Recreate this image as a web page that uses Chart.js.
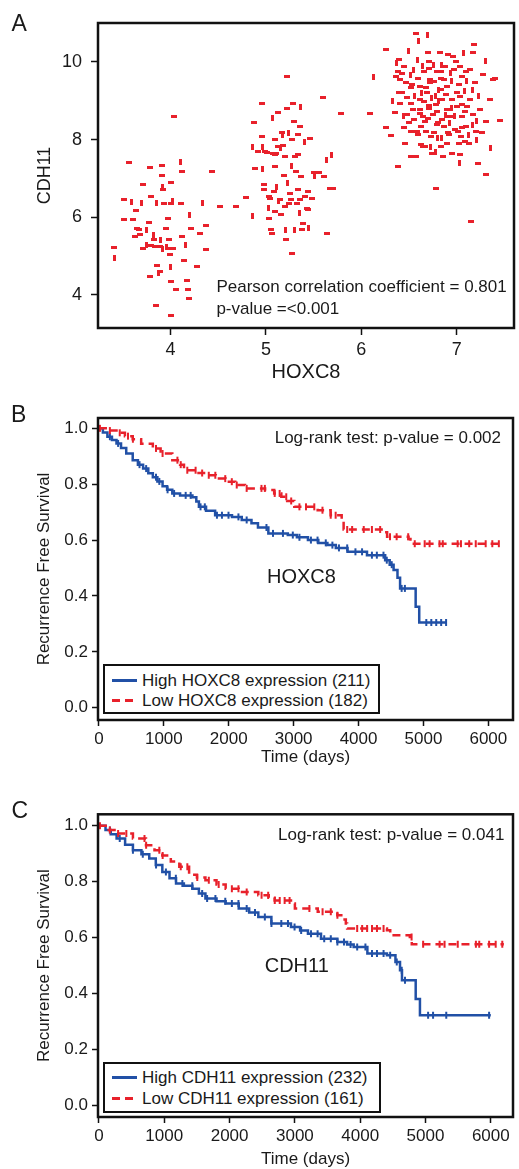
<!DOCTYPE html>
<html>
<head>
<meta charset="utf-8">
<script src="https://cdn.jsdelivr.net/npm/chart.js@4.4.1/dist/chart.umd.min.js"></script>
<style>
  html, body { margin: 0; padding: 0; background: #fff; }
  body { width: 519px; height: 1169px; position: relative; overflow: hidden;
         font-family: "Liberation Sans", Arial, sans-serif; color: #1a1a1a; }
  canvas { position: absolute; left: 0; }
  .txt { position: absolute; white-space: nowrap; line-height: 1; font-size: 17px; }
  .panel { font-size: 23px; }
  .big { font-size: 20px; }
  .legend { position: absolute; border: 2px solid #111; background: #fff; box-sizing: border-box; }
  .swatch { position: absolute; height: 3px; width: 25px; }
</style>
</head>
<body>
<canvas id="scatterChart" width="519" height="388" style="top:0"></canvas>
<canvas id="hoxc8Chart" width="519" height="392" style="top:380px"></canvas>
<canvas id="cdh11Chart" width="519" height="394" style="top:780px"></canvas>

<div class="txt panel" style="left:11.5px;top:12px">A</div>
<div class="txt panel" style="left:11px;top:403px">B</div>
<div class="txt panel" style="left:11.5px;top:799px">C</div>

<div class="txt" style="left:216.4px;top:278.3px">Pearson correlation coefficient = 0.801</div>
<div class="txt" style="left:216.4px;top:299.5px">p-value =&lt;0.001</div>
<div class="txt" style="left:274.7px;top:428.5px">Log-rank test: p-value = 0.002</div>
<div class="txt" style="left:278px;top:826px">Log-rank test: p-value = 0.041</div>
<div class="txt big" style="left:267px;top:566.4px">HOXC8</div>
<div class="txt big" style="left:264.7px;top:955px">CDH11</div>

<div id="legendB"></div>
<div id="legendC"></div>

<script>
const RED = '#e8212b';
const BLUE = '#2150a6';
const INK = '#1a1a1a';
const FONT = '"Liberation Sans", Arial, sans-serif';

// A: expression values, one entry per sample (HOXC8 on x, CDH11 on y)
const hoxc8Expr = [
    3.41, 3.41, 3.56, 3.51, 3.51, 3.59, 3.61, 3.63, 3.64, 3.70, 3.71, 3.67, 3.71, 3.75, 3.77, 3.78, 3.79, 3.82, 3.84, 3.85,
    3.86, 3.87, 3.89, 3.91, 3.91, 3.92, 3.92, 3.93, 3.95, 3.96, 3.97, 3.98, 3.99, 4.00, 4.01, 4.01, 4.01, 4.02, 4.03, 4.04,
    4.06, 4.10, 4.12, 4.12, 4.14, 4.16, 4.17, 4.18, 4.19, 4.20, 4.21, 4.28, 4.31, 4.33, 4.37, 4.37, 4.44, 3.75, 3.80, 3.83,
    3.89, 3.92, 4.00, 3.68, 3.65, 3.85, 4.01, 4.11, 3.80, 3.89,
    4.52, 4.69, 4.79, 4.86, 4.88, 4.96, 4.96, 4.96, 4.99, 5.01, 4.89, 4.96, 4.98, 4.98, 5.03, 5.03, 5.03, 5.05, 5.06, 5.07,
    5.09, 5.10, 5.10, 5.11, 5.13, 5.15, 5.16, 5.17, 5.18, 5.19, 5.20, 5.21, 5.21, 5.22, 5.22, 5.23, 5.24, 5.25, 5.27, 5.27,
    5.28, 5.29, 5.30, 5.30, 5.32, 5.33, 5.34, 5.36, 5.36, 5.37, 5.39, 5.40, 5.41, 5.43, 5.44, 5.45, 5.46, 5.48, 5.50, 5.51,
    5.56, 5.60, 5.61, 5.63, 5.64, 5.67, 5.70, 5.69, 5.79, 5.07, 5.13, 5.15, 5.04, 5.08, 5.09, 5.13, 5.20, 5.26, 5.34, 5.35,
    5.36, 5.38, 5.44, 4.86, 4.92, 5.11, 5.17, 5.24, 5.27, 5.34,
    6.09, 6.13, 6.26, 6.26, 6.31, 6.33, 6.35, 6.38, 6.38, 6.37, 6.39, 6.41, 6.43, 6.44, 6.45, 6.46, 6.48, 6.49, 6.52, 6.52,
    6.53, 6.55, 6.57, 6.57, 6.59, 6.60, 6.61, 6.62, 6.63, 6.63, 6.65, 6.66, 6.68, 6.69, 6.70, 6.71, 6.72, 6.72, 6.74, 6.75,
    6.76, 6.78, 6.78, 6.79, 6.80, 6.81, 6.82, 6.83, 6.84, 6.84, 6.85, 6.86, 6.87, 6.88, 6.90, 6.91, 6.92, 6.93, 6.95, 6.96,
    6.97, 6.98, 7.00, 7.01, 7.02, 7.03, 7.03, 7.05, 7.06, 7.07, 7.09, 7.10, 7.10, 7.12, 7.13, 7.14, 7.15, 7.16, 7.17, 7.18,
    7.20, 7.21, 7.22, 7.24, 7.28, 7.30, 7.31, 7.31, 7.35, 7.35, 7.38, 7.40, 7.45, 6.78, 6.90, 6.62, 6.52, 6.69, 6.48, 6.43,
    6.39, 6.72, 6.83, 6.88, 7.03, 7.10, 7.00, 6.93, 6.79, 6.74, 6.59, 6.55, 6.67, 6.76, 6.69, 6.91, 7.05, 6.84, 6.79, 6.65,
    6.72, 6.59, 6.47, 7.03, 7.14, 7.21, 6.95, 6.83, 6.67, 6.56, 6.36, 6.40, 6.45, 6.51, 6.54, 6.58, 6.61, 6.64, 6.70, 6.73,
    6.76, 6.81, 6.85, 6.89, 6.90, 6.94, 6.98, 7.02, 7.06, 7.08, 7.11, 7.17, 7.19, 7.23, 7.26, 6.52, 6.68, 6.80, 6.87, 6.99,
    7.09, 7.16, 6.66, 6.71, 6.78, 6.95, 7.04, 6.50, 6.63, 6.92
];
const cdh11Expr = [
    5.23, 4.95, 7.42, 6.47, 5.93, 6.39, 5.93, 5.50, 6.17, 6.36, 6.84, 5.68, 5.20, 5.68, 5.86, 4.47, 7.28, 5.55, 5.25, 3.72,
    4.76, 4.56, 4.60, 7.32, 7.08, 6.79, 6.71, 6.35, 5.72, 5.23, 5.98, 5.42, 5.05, 4.73, 3.46, 4.34, 6.90, 6.41, 5.20, 8.60,
    4.13, 7.42, 7.18, 5.50, 4.90, 5.29, 4.36, 4.13, 3.91, 6.06, 5.72, 4.73, 5.57, 6.36, 5.80, 5.18, 7.18, 5.29, 5.27, 5.42,
    5.25, 5.18, 5.20, 5.55, 5.72, 6.36, 6.36, 6.36, 6.54, 5.42,
    6.29, 6.29, 6.52, 6.04, 8.44, 8.92, 8.08, 7.82, 7.69, 7.67, 7.25, 7.25, 6.84, 6.71, 6.53, 6.23, 5.98, 5.68, 5.59, 8.55,
    7.61, 7.99, 7.31, 6.79, 8.70, 6.45, 6.06, 8.12, 7.84, 7.07, 7.57, 5.68, 5.44, 8.81, 9.63, 6.88, 6.36, 6.62, 5.08, 7.31,
    8.94, 8.47, 7.57, 5.68, 7.18, 6.36, 7.61, 8.85, 8.34, 7.05, 5.85, 7.93, 6.53, 6.23, 6.19, 5.72, 8.04, 6.49, 7.14, 7.07,
    7.14, 9.07, 7.05, 7.48, 5.59, 6.75, 6.75, 7.61, 8.68, 7.65, 7.82, 7.78, 6.49, 6.66, 6.15, 6.41, 6.28, 6.45, 6.71, 6.11,
    6.45, 5.68, 6.66, 7.82, 7.69, 7.65, 8.17, 8.17, 7.99, 8.12,
    8.68, 9.60, 8.30, 10.33, 8.11, 8.98, 8.70, 7.31, 9.76, 9.97, 10.06, 9.54, 9.20, 8.60, 9.89, 7.91, 9.07, 10.27, 9.34, 7.57,
    9.41, 9.80, 7.57, 10.74, 9.58, 10.53, 8.77, 9.03, 8.34, 9.20, 7.82, 9.76, 9.33, 10.70, 10.23, 10.01, 9.54, 8.85, 7.65, 8.64,
    8.17, 9.11, 6.75, 9.76, 8.43, 9.28, 10.23, 7.82, 9.58, 9.93, 9.03, 7.57, 8.34, 8.64, 9.37, 10.19, 8.12, 9.71, 9.03, 10.14,
    9.80, 8.60, 9.20, 8.21, 7.91, 7.39, 7.61, 9.63, 8.90, 10.23, 8.73, 8.34, 9.76, 8.12, 7.91, 9.03, 5.89, 9.28, 10.23, 10.44,
    8.21, 8.47, 7.39, 8.77, 9.67, 10.01, 8.47, 7.09, 9.03, 7.78, 9.54, 9.58, 8.49, 7.69, 8.77, 8.68, 8.94, 8.85, 8.64, 9.71,
    9.20, 7.82, 9.76, 9.89, 9.11, 9.50, 8.85, 8.60, 8.38, 9.07, 8.12, 8.51, 8.47, 9.93, 9.20, 8.17, 8.30, 8.04, 8.72, 8.60,
    9.46, 10.06, 9.46, 9.89, 9.80, 7.99, 7.65, 9.28, 7.82, 9.11, 9.63, 8.94, 8.30, 9.67, 8.77, 8.21, 9.37, 9.89, 8.55, 8.08,
    9.50, 8.98, 8.51, 9.15, 7.91, 9.50, 8.25, 9.41, 8.60, 9.24, 8.85, 8.64, 9.46, 9.11, 8.17, 8.21, 8.21, 8.04, 9.54, 10.01,
    7.95, 8.38, 8.98, 9.84, 8.90, 8.81, 8.08, 8.43, 7.87, 8.43
];

// B: recurrence free survival by HOXC8 group (days, survival after each step)
const hoxHighTime = [0, 60, 130, 200, 270, 340, 420, 520, 600, 680, 760, 830, 900, 980, 1050, 1130, 1250, 1440, 1500, 1540,
    1650, 1790, 2050, 2200, 2350, 2450, 2610, 2910, 3050, 3220, 3380, 3520, 3650, 3830, 4130, 4410, 4480, 4540, 4600, 4640,
    4880, 4935, 5350];
const hoxHighSurv = [1.0, 0.985, 0.970, 0.958, 0.946, 0.930, 0.910, 0.886, 0.870, 0.856, 0.839, 0.825, 0.810, 0.793, 0.780, 0.767, 0.760, 0.753, 0.738, 0.719,
    0.705, 0.689, 0.683, 0.672, 0.660, 0.645, 0.624, 0.618, 0.610, 0.600, 0.590, 0.582, 0.572, 0.558, 0.546, 0.528, 0.512, 0.493, 0.465, 0.427,
    0.361, 0.305, 0.305];
const hoxHighCensor = [168, 295, 625, 727, 879, 930, 1057, 1158, 1336, 1413, 1565, 1631, 1818, 1895, 1996, 2149, 2276, 2581, 2682, 2835,
    2987, 3089, 3266, 3368, 3495, 3597, 3698, 3825, 3952, 4054, 4206, 4282, 4384, 4435, 4511, 4664, 4714, 5044, 5121, 5197, 5273, 5349];

const hoxLowTime = [0, 150, 270, 400, 520, 650, 830, 950, 1130, 1250, 1310, 1500, 1640, 1800, 1950, 2100, 2250, 2560, 2700, 2810,
    2900, 3010, 3370, 3570, 3740, 3770, 4380, 4440, 4770, 4800, 6215];
const hoxLowSurv = [1.0, 0.992, 0.984, 0.972, 0.961, 0.945, 0.928, 0.910, 0.886, 0.870, 0.850, 0.840, 0.832, 0.820, 0.809, 0.797, 0.785, 0.779, 0.767, 0.755,
    0.740, 0.719, 0.707, 0.689, 0.668, 0.638, 0.628, 0.612, 0.604, 0.587, 0.587];
const hoxLowCensor = [15, 168, 320, 447, 523, 879, 980, 1209, 1260, 1361, 1489, 1590, 1692, 1793, 1946, 2047, 2123, 2276, 2504, 2556,
    2708, 2784, 2886, 2962, 3089, 3190, 3318, 3444, 3571, 3647, 3825, 3901, 4080, 4206, 4333, 4485, 4587, 4765, 4866, 5019,
    5095, 5247, 5298, 5527, 5578, 5705, 5806, 5959, 6061, 6162];

// C: recurrence free survival by CDH11 group
const cdhHighTime = [0, 100, 180, 270, 400, 520, 650, 770, 870, 970, 1080, 1180, 1300, 1430, 1530, 1630, 1800, 1940, 2140, 2300,
    2440, 2640, 2940, 3080, 3200, 3400, 3650, 3800, 3900, 4110, 4410, 4540, 4610, 4640, 4850, 4915, 6000];
const cdhHighSurv = [1.0, 0.985, 0.970, 0.954, 0.932, 0.912, 0.898, 0.883, 0.860, 0.835, 0.812, 0.793, 0.785, 0.775, 0.758, 0.740, 0.730, 0.722, 0.704, 0.690,
    0.674, 0.650, 0.638, 0.625, 0.614, 0.596, 0.584, 0.575, 0.566, 0.543, 0.537, 0.513, 0.483, 0.447, 0.380, 0.322, 0.322];
const cdhHighCensor = [167, 318, 520, 671, 874, 1025, 1177, 1277, 1429, 1580, 1656, 1783, 1934, 2035, 2136, 2262, 2389, 2540, 2641, 2792,
    2894, 2995, 3096, 3247, 3348, 3449, 3550, 3651, 3752, 3853, 3954, 4080, 4181, 4257, 4358, 4459, 4560, 4636, 4686, 5040,
    5116, 5318, 5974];

const cdhLowTime = [0, 150, 270, 520, 720, 850, 970, 1100, 1230, 1380, 1500, 1630, 1800, 1940, 2140, 2440, 2600, 2690, 2940, 3000,
    3350, 3650, 3740, 3780, 3800, 4410, 4460, 4760, 4790, 6200];
const cdhLowSurv = [1.0, 0.985, 0.972, 0.954, 0.930, 0.912, 0.894, 0.872, 0.853, 0.825, 0.815, 0.805, 0.790, 0.775, 0.763, 0.751, 0.742, 0.733, 0.722, 0.704,
    0.692, 0.680, 0.665, 0.650, 0.632, 0.626, 0.608, 0.602, 0.576, 0.576];
const cdhLowCensor = [15, 167, 293, 419, 697, 722, 924, 975, 1252, 1353, 1505, 1682, 1833, 2035, 2136, 2262, 2490, 2591, 2692, 2768,
    2843, 2919, 3222, 3424, 3550, 3651, 3954, 4030, 4106, 4181, 4257, 4358, 4787, 4964, 5216, 5292, 5494, 5772, 5823, 5974,
    6075, 6176];

// tick labels
const exprXTicks = [4, 5, 6, 7];
const exprYTicks = [4, 6, 8, 10];
const timeTicks = [0, 1000, 2000, 3000, 4000, 5000, 6000];
const survTicks = [0, 0.2, 0.4, 0.6, 0.8, 1.0];

const legendB = ['High HOXC8 expression (211)', 'Low HOXC8 expression (182)'];
const legendC = ['High CDH11 expression (232)', 'Low CDH11 expression (161)'];

const framePlugin = {
    id: 'frame',
    afterDraw(chart) {
        const { ctx, chartArea: a } = chart;
        ctx.save();
        ctx.strokeStyle = '#111';
        ctx.lineWidth = 2.5;
        ctx.strokeRect(a.left, a.top, a.right - a.left, a.bottom - a.top);
        ctx.restore();
    }
};

function axis(opts) {
    return {
        type: 'linear',
        min: opts.min,
        max: opts.max,
        afterBuildTicks: s => { s.ticks = opts.ticks.map(value => ({ value })); },
        ticks: {
            color: INK,
            padding: opts.pad,
            maxRotation: 0,
            autoSkip: false,
            font: { family: FONT, size: opts.tickSize },
            callback: opts.fmt || (v => v)
        },
        grid: { drawOnChartArea: false, drawTicks: true, tickLength: opts.tickLen, tickWidth: 1.5, tickColor: '#111' },
        border: { display: false },
        title: {
            display: true,
            text: opts.title,
            color: INK,
            font: { family: FONT, size: opts.titleSize },
            padding: { top: 4, bottom: 4 }
        },
        afterFit: opts.fit
    };
}

function survivalAt(times, surv, t) {
    let s = surv[0];
    for (let i = 0; i < times.length; i++) {
        if (times[i] <= t) s = surv[i];
    }
    return s;
}

function createScatterChart() {
    const dash = document.createElement('canvas');
    dash.width = 6;
    dash.height = 3;
    const d = dash.getContext('2d');
    d.fillStyle = RED;
    d.fillRect(0, 0, 6, 3);

    const ctx = document.getElementById('scatterChart').getContext('2d');
    new Chart(ctx, {
        type: 'scatter',
        data: {
            datasets: [{
                data: hoxc8Expr.map((x, i) => ({ x, y: cdh11Expr[i] })),
                pointStyle: dash,
                pointRotation: c => (c.dataIndex % 4 === 1 ? 90 : 0)
            }]
        },
        options: {
            responsive: false,
            animation: false,
            events: [],
            layout: { padding: { top: 23, right: 1.5, left: 30, bottom: 0 } },
            plugins: { legend: { display: false }, tooltip: { enabled: false } },
            scales: {
                x: axis({ min: 3.24, max: 7.6, ticks: exprXTicks, pad: 4, tickSize: 18, tickLen: 7, title: 'HOXC8', titleSize: 20,
                    fit: s => { s.height = 60; } }),
                y: axis({ min: 3.15, max: 11.0, ticks: exprYTicks, pad: 9, tickSize: 18, tickLen: 7, title: 'CDH11', titleSize: 18,
                    fit: s => { s.width = 68; } })
            }
        },
        plugins: [framePlugin]
    });
}

function createSurvivalChart(id, cfg) {
    const curve = (times, surv, color, dashed) => ({
        data: times.map((t, i) => ({ x: t, y: surv[i] })),
        showLine: true,
        stepped: 'before',
        borderColor: color,
        borderWidth: 2.5,
        borderDash: dashed ? [8, 5] : [],
        pointRadius: 0,
        fill: false
    });
    const marks = (censor, times, surv, color) => ({
        data: censor.map(t => ({ x: t, y: survivalAt(times, surv, t) })),
        showLine: false,
        pointStyle: 'line',
        pointRotation: 90,
        pointRadius: 3.5,
        pointBorderWidth: 2,
        pointBorderColor: color
    });

    const ctx = document.getElementById(id).getContext('2d');
    new Chart(ctx, {
        type: 'scatter',
        data: {
            datasets: [
                curve(cfg.low.time, cfg.low.surv, RED, true),
                marks(cfg.low.censor, cfg.low.time, cfg.low.surv, RED),
                curve(cfg.high.time, cfg.high.surv, BLUE, false),
                marks(cfg.high.censor, cfg.high.time, cfg.high.surv, BLUE)
            ]
        },
        options: {
            responsive: false,
            animation: false,
            events: [],
            layout: { padding: { top: cfg.padTop, right: 1.5, left: 30, bottom: 0 } },
            plugins: { legend: { display: false }, tooltip: { enabled: false } },
            scales: {
                x: axis({ min: -15, max: cfg.xMax, ticks: timeTicks, pad: 3, tickSize: 17, tickLen: 6, title: 'Time (days)', titleSize: 17,
                    fit: s => { s.height = cfg.xHeight; } }),
                y: axis({ min: cfg.yMin, max: cfg.yMax, ticks: survTicks, pad: 4, tickSize: 17, tickLen: 6, title: 'Recurrence Free Survival', titleSize: 17,
                    fmt: v => v.toFixed(1), fit: s => { s.width = 68; } })
            }
        },
        plugins: [framePlugin]
    });
}

function buildLegend(id, labels, box) {
    const el = document.getElementById(id);
    const frame = document.createElement('div');
    frame.className = 'legend';
    Object.assign(frame.style, { left: box.left + 'px', top: box.top + 'px', width: box.width + 'px', height: box.height + 'px' });
    el.appendChild(frame);
    labels.forEach((label, i) => {
        const sw = document.createElement('div');
        sw.className = 'swatch';
        sw.style.left = '112px';
        sw.style.top = Math.round(box.rows[i] - 1.5) + 'px';
        sw.style.background = i === 0 ? BLUE
            : `repeating-linear-gradient(90deg, ${RED} 0 8px, transparent 8px 13px)`;
        el.appendChild(sw);
        const t = document.createElement('div');
        t.className = 'txt';
        t.style.left = '142px';
        t.style.top = (box.rows[i] - 8.3) + 'px';
        t.style.color = INK;
        t.textContent = label;
        el.appendChild(t);
    });
}

createScatterChart();
createSurvivalChart('hoxc8Chart', {
    padTop: 38, xHeight: 52, xMax: 6380, yMin: -0.044, yMax: 1.037,
    high: { time: hoxHighTime, surv: hoxHighSurv, censor: hoxHighCensor },
    low: { time: hoxLowTime, surv: hoxLowSurv, censor: hoxLowCensor }
});
createSurvivalChart('cdh11Chart', {
    padTop: 34.3, xHeight: 57, xMax: 6340, yMin: -0.042, yMax: 1.041,
    high: { time: cdhHighTime, surv: cdhHighSurv, censor: cdhHighCensor },
    low: { time: cdhLowTime, surv: cdhLowSurv, censor: cdhLowCensor }
});
buildLegend('legendB', legendB, { left: 103, top: 664, width: 277, height: 50, rows: [680, 700.7] });
buildLegend('legendC', legendC, { left: 103, top: 1061.7, width: 278, height: 51.6, rows: [1077.7, 1098.3] });
</script>
</body>
</html>
